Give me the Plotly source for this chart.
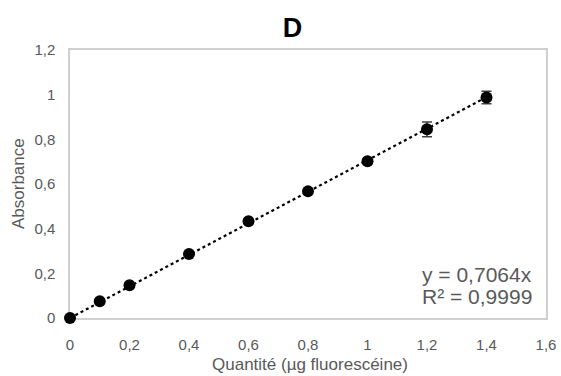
import plotly.graph_objects as go

quantite = [0, 0.1, 0.2, 0.4, 0.6, 0.8, 1.0, 1.2, 1.4]
absorbance = [0, 0.075, 0.147, 0.287, 0.433, 0.567, 0.702, 0.845, 0.987]
erreur = [0.004, 0.006, 0.007, 0.008, 0.009, 0.010, 0.010, 0.033, 0.028]
pente = 0.7064
eq_texte = "y = 0,7064x"
r2_texte = "R² = 0,9999"
titre = "D"
titre_x = "Quantité (µg fluorescéine)"
titre_y = "Absorbance"

fit_x = [min(quantite), max(quantite)]
fit_y = [pente * v for v in fit_x]

GRIS = "#595959"
FONT = "Liberation Sans"

fig = go.Figure()
fig.add_trace(go.Scatter(
    x=fit_x, y=fit_y, mode="lines",
    line=dict(color="black", width=2.2, dash="dot"),
    showlegend=False, hoverinfo="skip", cliponaxis=False))
fig.add_trace(go.Scatter(
    x=quantite, y=absorbance, mode="markers",
    marker=dict(color="black", size=12),
    error_y=dict(type="data", array=erreur, color="#404040", thickness=1.5, width=5),
    showlegend=False, cliponaxis=False))

fig.add_annotation(x=1, y=0, xref="paper", yref="paper", xanchor="right", yanchor="middle",
                   xshift=-12, yshift=44, showarrow=False, text=eq_texte,
                   font=dict(size=21, color=GRIS, family=FONT))
fig.add_annotation(x=1, y=0, xref="paper", yref="paper", xanchor="right", yanchor="middle",
                   xshift=-12, yshift=22, showarrow=False, text=r2_texte,
                   font=dict(size=21, color=GRIS, family=FONT))
fig.add_annotation(x=0.5, y=0, xref="paper", yref="paper", xanchor="center", yanchor="middle",
                   xshift=2, yshift=-46, showarrow=False, text=titre_x,
                   font=dict(size=17, color=GRIS, family=FONT))
fig.add_annotation(x=0, y=0.5, xref="paper", yref="paper", xanchor="center", yanchor="middle",
                   xshift=-52, showarrow=False, text=titre_y, textangle=-90,
                   font=dict(size=17, color=GRIS, family=FONT))

axis_common = dict(showgrid=False, zeroline=False, showline=True, mirror=True,
                   linecolor="#d0d0d0", linewidth=1.5, ticks="", automargin=False,
                   layer="below traces",
                   tickfont=dict(size=15, color=GRIS, family=FONT))
fig.update_xaxes(range=[0, 1.6], dtick=0.2, tick0=0, ticklabelstandoff=12, **axis_common)
fig.update_yaxes(range=[0, 1.2], dtick=0.2, tick0=0, ticklabelstandoff=10, **axis_common)

fig.update_layout(
    width=561, height=376,
    margin=dict(l=70, r=15, t=50, b=58),
    paper_bgcolor="white", plot_bgcolor="white",
    separators=", ",
    font=dict(family=FONT, color=GRIS),
    title=dict(text="<b>" + titre + "</b>", x=0.5214, xanchor="center", y=0.927, yanchor="middle",
               font=dict(size=27, color="black", family=FONT)),
)
fig.write_html("out.html", config={"displayModeBar": False},
               post_script="document.body.style.margin='0';document.body.style.overflow='hidden';")
